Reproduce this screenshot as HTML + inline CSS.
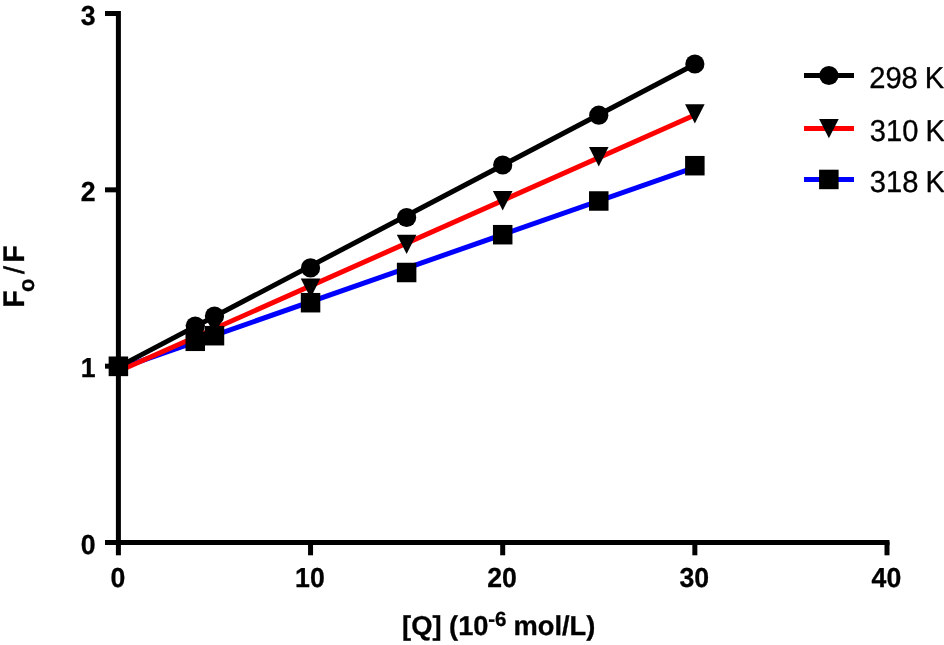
<!DOCTYPE html>
<html><head><meta charset="utf-8"><title>Stern-Volmer plot</title>
<style>
html,body{margin:0;padding:0;background:#fff;}
body{width:944px;height:645px;overflow:hidden;}
svg{display:block;}
text{font-family:"Liberation Sans",Arial,Helvetica,sans-serif;fill:#000;text-rendering:geometricPrecision;}
.b{font-weight:bold;}
.t{font-size:27.5px;font-weight:bold;}
.l{font-size:30.2px;stroke:#000;stroke-width:0.35px;}
.x{font-size:27.3px;}
.b,.t{stroke:#000;stroke-width:0.3px;}
</style></head><body>
<svg width="944" height="645" viewBox="0 0 944 645">
<rect width="944" height="645" fill="#fff"/>
<line x1="118.40" y1="368.9" x2="694.85" y2="167.4" stroke="#00f" stroke-width="5"/>
<line x1="118.40" y1="371.3" x2="694.85" y2="115.0" stroke="#f00" stroke-width="5"/>
<line x1="118.40" y1="366.9" x2="694.85" y2="64.3" stroke="#000" stroke-width="5"/>
<rect x="115.9" y="11" width="5" height="544.3" fill="#000"/>
<rect x="105" y="540" width="784.5" height="5" fill="#000"/>
<rect x="105" y="363.67" width="13" height="5" fill="#000"/>
<rect x="105" y="187.34" width="13" height="5" fill="#000"/>
<rect x="105" y="11.01" width="13" height="5" fill="#000"/>
<rect x="308.05" y="542" width="5" height="13.3" fill="#000"/>
<rect x="500.20" y="542" width="5" height="13.3" fill="#000"/>
<rect x="692.35" y="542" width="5" height="13.3" fill="#000"/>
<rect x="884.50" y="542" width="5" height="13.3" fill="#000"/>
<circle cx="118.40" cy="366.4" r="9.6" fill="#000"/>
<circle cx="195.26" cy="326" r="9.6" fill="#000"/>
<circle cx="214.48" cy="316" r="9.6" fill="#000"/>
<circle cx="310.55" cy="267.9" r="9.6" fill="#000"/>
<circle cx="406.62" cy="217.5" r="9.6" fill="#000"/>
<circle cx="502.70" cy="165" r="9.6" fill="#000"/>
<circle cx="598.77" cy="115.2" r="9.6" fill="#000"/>
<circle cx="694.85" cy="64" r="9.6" fill="#000"/>
<polygon points="108.60,356.70 128.20,356.70 118.40,376.10" fill="#000"/>
<polygon points="185.46,324.80 205.06,324.80 195.26,344.20" fill="#000"/>
<polygon points="204.68,315.80 224.28,315.80 214.48,335.20" fill="#000"/>
<polygon points="300.75,278.50 320.35,278.50 310.55,297.90" fill="#000"/>
<polygon points="396.82,234.70 416.43,234.70 406.62,254.10" fill="#000"/>
<polygon points="492.90,191.10 512.50,191.10 502.70,210.50" fill="#000"/>
<polygon points="588.98,147.00 608.57,147.00 598.77,166.40" fill="#000"/>
<polygon points="685.05,104.20 704.65,104.20 694.85,123.60" fill="#000"/>
<rect x="108.65" y="356.65" width="19.5" height="19.5" fill="#000"/>
<rect x="185.51" y="331.55" width="19.5" height="19.5" fill="#000"/>
<rect x="204.73" y="325.95" width="19.5" height="19.5" fill="#000"/>
<rect x="300.80" y="292.95" width="19.5" height="19.5" fill="#000"/>
<rect x="396.88" y="262.75" width="19.5" height="19.5" fill="#000"/>
<rect x="492.95" y="224.95" width="19.5" height="19.5" fill="#000"/>
<rect x="589.02" y="191.25" width="19.5" height="19.5" fill="#000"/>
<rect x="685.10" y="155.95" width="19.5" height="19.5" fill="#000"/>
<text class="t" transform="translate(95.6,553.50) scale(0.97,1)" text-anchor="end">0</text>
<text class="t" transform="translate(95.6,377.17) scale(0.97,1)" text-anchor="end">1</text>
<text class="t" transform="translate(95.6,200.84) scale(0.97,1)" text-anchor="end">2</text>
<text class="t" transform="translate(95.6,24.51) scale(0.97,1)" text-anchor="end">3</text>
<text class="t" transform="translate(117.80,587.2) scale(0.97,1)" text-anchor="middle">0</text>
<text class="t" transform="translate(309.95,587.2) scale(0.97,1)" text-anchor="middle">10</text>
<text class="t" transform="translate(502.10,587.2) scale(0.97,1)" text-anchor="middle">20</text>
<text class="t" transform="translate(694.25,587.2) scale(0.97,1)" text-anchor="middle">30</text>
<text class="t" transform="translate(886.40,587.2) scale(0.97,1)" text-anchor="middle">40</text>
<text class="t x" x="402.1" y="635.2">[Q] (10</text>
<text class="b" font-size="20.5px" x="488.2" y="626.1">-6</text>
<text class="t x" x="513.5" y="635.2">mol/L)</text>
<g transform="translate(24.25,308) rotate(-90)"><text class="b" font-size="29.85px" transform="translate(0.26,0) scale(0.952,1)">F</text><text class="b" font-size="22px" x="16.1" y="9.75">o</text><text font-size="28.6px" stroke="#000" stroke-width="0.35" x="33.9" y="-0.4">/</text><text class="b" font-size="29.85px" transform="translate(45.19,0) scale(0.952,1)">F</text></g>
<rect x="804" y="73.0" width="50" height="5" fill="#000"/>
<text class="l" transform="translate(869.2,88.30) scale(0.965,1)">298 <tspan dx="-1.1">K</tspan></text>
<rect x="804" y="126.0" width="50" height="5" fill="#f00"/>
<text class="l" transform="translate(869.8,141.30) scale(0.965,1)">310 <tspan dx="-1.1">K</tspan></text>
<rect x="804" y="177.0" width="50" height="5" fill="#00f"/>
<text class="l" transform="translate(869.8,192.30) scale(0.965,1)">318 <tspan dx="-1.1">K</tspan></text>
<circle cx="828.9" cy="75.5" r="9.6" fill="#000"/>
<polygon points="819.1,118.9 838.7,118.9 828.9,138.3" fill="#000"/>
<rect x="819.1" y="169.7" width="19.5" height="19.5" fill="#000"/>
</svg></body></html>
